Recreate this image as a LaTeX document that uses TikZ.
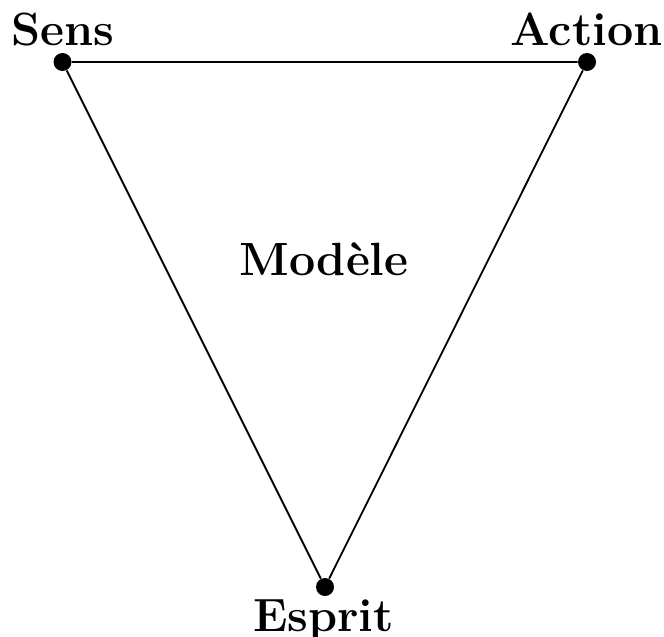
\documentclass[tikz,border=0pt]{standalone}
\usepackage{tikz}
\usetikzlibrary{positioning}
\tikzset{
  pt/.style={circle,fill=black,inner sep=0pt,minimum size=9pt},
  edge/.style={line width=0.9pt},
  lbl/.style={font=\fontsize{23.3pt}{28pt}\selectfont\bfseries,inner sep=0pt}
}
\begin{document}
\begin{tikzpicture}[x=0.5pt,y=-0.5pt]
\useasboundingbox (0,0) rectangle (664,637);
\node[pt] (sens) at (62.5,62) {};
\node[pt] (action) at (587,62) {};
\node[pt] (esprit) at (325,587) {};
\draw[edge] (sens)--(action)--(esprit)--(sens);
\node[lbl,anchor=base] (senslbl) at (62.5,45) {Sens};
\node[lbl,anchor=base] (actionlbl) at (586.5,45) {Action};
\node[lbl,anchor=base] (espritlbl) at (323.5,631) {Esprit};
\node[lbl,anchor=base] (modele) at (324,275) {Modèle};
\end{tikzpicture}
\end{document}
